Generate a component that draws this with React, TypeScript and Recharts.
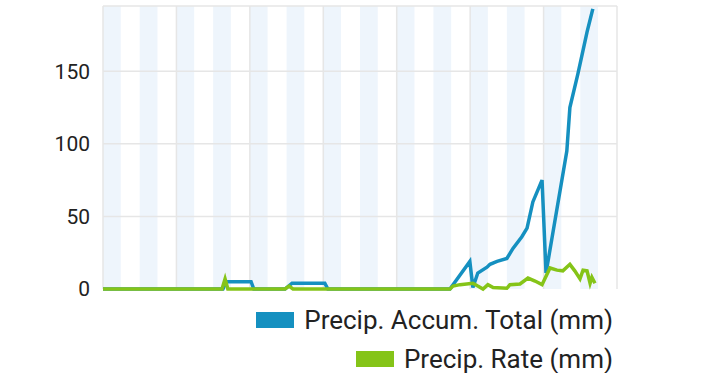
import React from 'react';
import { LineChart, Line, XAxis, YAxis, Legend, ReferenceArea, ReferenceLine } from 'recharts';

// hours since start of the window
const accumHours = [0, 39.2, 40.2, 48.4, 49.3, 59.5, 61.8, 72.5, 73.5, 113.4, 119.9, 120.9, 122.5, 125.5, 126.5, 128.8, 132.0, 134.0, 136.9, 138.6, 140.5, 143.5, 144.8, 151.6, 152.6, 155.2, 158.2, 160.1];
const accumTotal = [0, 0, 5, 5, 0, 0, 4, 4, 0, 0, 19, 1, 11, 15, 17, 19, 21, 28, 36, 42, 60, 75, 11, 95, 125, 148, 177, 193];

const rateHours = [0, 38.9, 39.9, 40.8, 59.5, 60.8, 62.1, 113.4, 114.4, 116.7, 120.9, 122.5, 124.2, 125.8, 127.5, 132.0, 133.0, 136.3, 138.9, 141.2, 143.5, 146.1, 148.4, 150.3, 152.6, 154.2, 155.9, 156.9, 158.2, 159.2, 159.8, 160.8];
const rateValues = [0, 0, 7, 0, 0, 2, 0, 0, 2, 3, 4, 2, 0, 3, 1, 0.5, 3, 3.5, 7.5, 5.5, 3, 14.5, 13, 12.5, 17, 12.5, 7, 13, 12.5, 4, 8, 4];

const dayTicks = [0, 24, 48, 72, 96, 120, 144, 168];
const valueTicks = [0, 50, 100, 150];
const gridRows = [50, 100, 150, 195];
const shadeStarts = [0, 12, 24, 36, 48, 60, 72, 84, 96, 108, 120, 132, 144, 156];
const shadeWidth = 5.8;

const BLUE = '#1590c0';
const GREEN = '#85c418';
const GRID = '#e6e6e6';

const accumData = accumHours.map((h, i) => ({ h, v: accumTotal[i] }));
const rateData = rateHours.map((h, i) => ({ h, v: rateValues[i] }));

const legendItems = [
  { label: 'Precip. Accum. Total (mm)', color: BLUE },
  { label: 'Precip. Rate (mm)', color: GREEN }
];

function PrecipLegend() {
  return <div style={{ position: 'relative', height: 84, width: 720 }}>
      {legendItems.map((item, i) => <div key={item.label} style={{
      position: 'absolute',
      right: 107,
      top: 16 + i * 39,
      height: 30,
      display: 'flex',
      alignItems: 'center',
      whiteSpace: 'nowrap'
    }}>
          <span style={{ width: 38, height: 16, background: item.color, marginRight: 10, display: 'inline-block' }} />
          <span style={{ fontSize: 26, color: '#222', fontFamily: 'Roboto' }}>{item.label}</span>
        </div>)}
    </div>;
}

export default function App() {
  return <div style={{ position: 'absolute', left: 0, top: 0, width: 720, height: 373, background: '#fff', fontFamily: 'Roboto' }}>
      <LineChart width={720} height={373} margin={{ top: 6, right: 103, left: 0, bottom: 0 }}>
        {shadeStarts.map(s => <ReferenceArea key={s} x1={s} x2={s + shadeWidth} fill="#eef5fc" fillOpacity={1} stroke="none" ifOverflow="hidden" />)}
        {dayTicks.map(t => <ReferenceLine key={'x' + t} x={t} stroke={GRID} strokeWidth={1.5} />)}
        {gridRows.map(t => <ReferenceLine key={'y' + t} y={t} stroke={GRID} strokeWidth={1.5} />)}
        <XAxis dataKey="h" type="number" domain={[0, 168]} ticks={dayTicks} tick={false} axisLine={false} tickLine={false} height={0} allowDuplicatedCategory={false} />
        <YAxis type="number" domain={[0, 195]} ticks={valueTicks} width={103} axisLine={false} tickLine={false} tickMargin={7} tick={{ fontSize: 21, fill: '#222' }} />
        <Line data={accumData} dataKey="v" type="linear" stroke={BLUE} strokeWidth={3.5} dot={false} isAnimationActive={false} name="Precip. Accum. Total (mm)" />
        <Line data={rateData} dataKey="v" type="linear" stroke={GREEN} strokeWidth={3.5} dot={false} isAnimationActive={false} name="Precip. Rate (mm)" />
        <Legend verticalAlign="bottom" content={() => <PrecipLegend />} wrapperStyle={{ left: 0, bottom: 0, width: 720, height: 84 }} />
      </LineChart>
    </div>;
}
